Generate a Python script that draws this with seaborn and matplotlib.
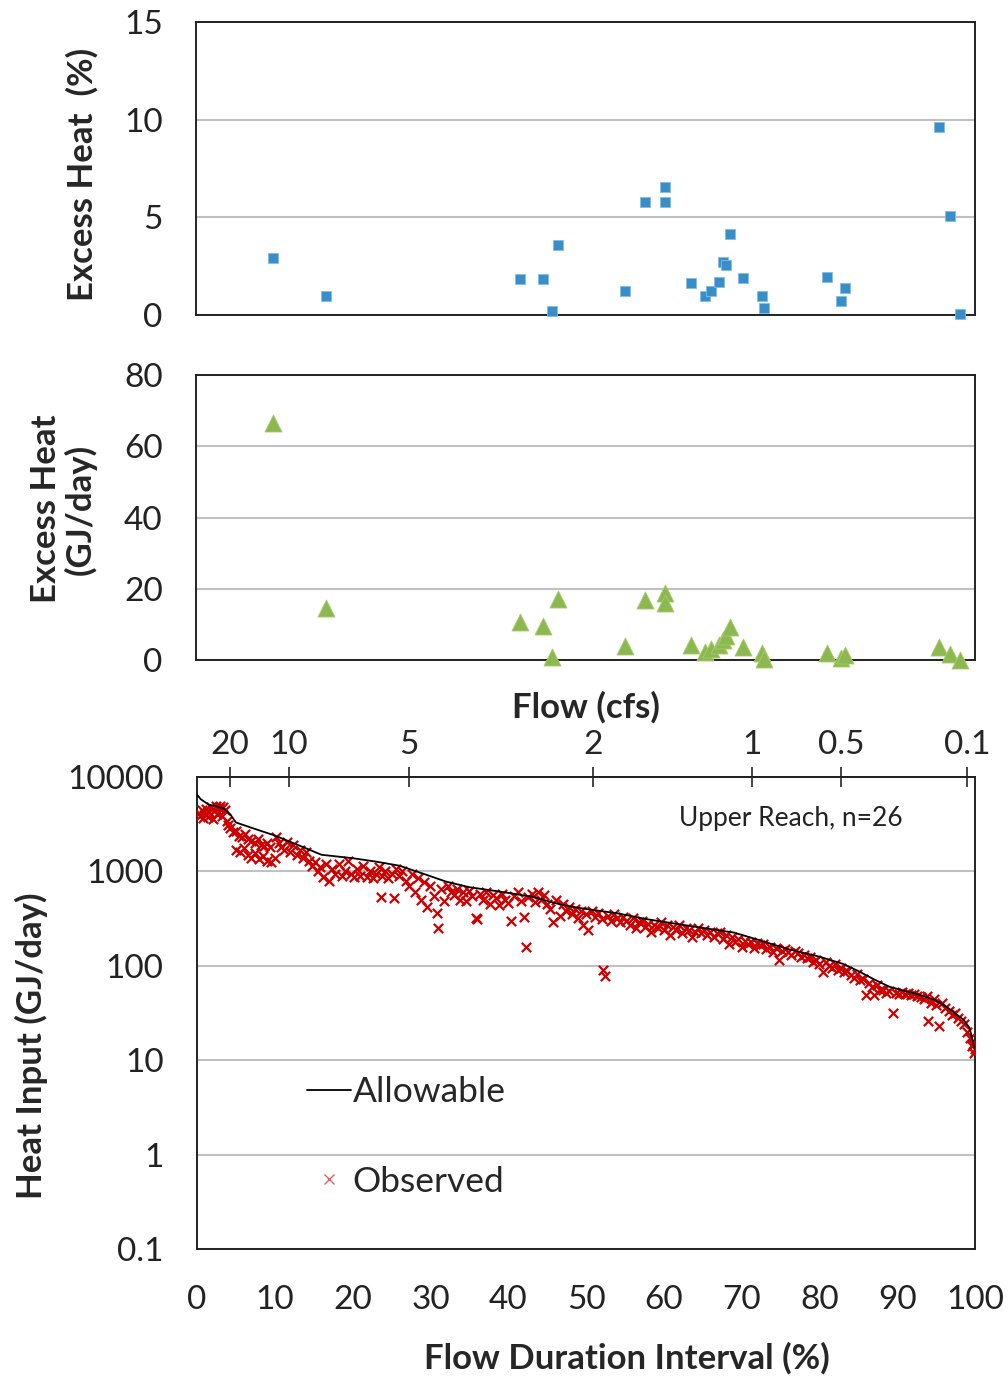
import numpy as np
import pandas as pd
import matplotlib
matplotlib.use('Agg')
import matplotlib.pyplot as plt
from matplotlib.lines import Line2D
import seaborn as sns

# excess heat per sampled event, placed on the flow duration interval (%)
event_pct = [9.85, 16.7, 41.6, 44.6, 45.7, 46.5, 55.1, 57.6, 60.2, 60.2, 63.5, 65.4, 66.1,
             67.1, 67.7, 68.1, 68.6, 70.2, 72.7, 72.9, 81.0, 82.8, 83.3, 95.4, 96.8, 98.1]
excess_pct = [2.94, 0.98, 1.82, 1.86, 0.19, 3.56, 1.25, 5.77, 6.56, 5.77, 1.62, 0.96, 1.25,
              1.67, 2.73, 2.56, 4.14, 1.87, 0.98, 0.34, 1.92, 0.74, 1.39, 9.60, 5.09, 0.05]
excess_gj = [66.6, 14.5, 10.6, 9.6, 0.9, 17.1, 4.0, 16.8, 18.7, 16.1, 4.2, 2.3, 3.0,
             4.2, 5.6, 6.6, 9.4, 3.7, 1.9, 0.2, 2.1, 0.7, 1.3, 3.7, 1.7, 0.0]

# allowable heat load curve
allow_pct = [0, 0.5, 1.5, 2.5, 3.5, 4.3, 5, 7, 10, 13, 16, 20, 23, 26, 29, 32, 35, 39, 43, 47,
             50, 54, 58, 62, 66, 69, 72, 76, 80, 83, 85, 87, 89, 91, 93, 95, 96.5, 97.5, 98.5,
             99.3, 100]
allow_heat = [6500, 5800, 5100, 4900, 4600, 4000, 3300, 2900, 2400, 1900, 1500, 1380, 1270,
              1150, 950, 780, 680, 610, 540, 440, 400, 360, 310, 275, 245, 225, 190, 150, 125,
              105, 88, 72, 60, 54, 49, 43, 36, 31, 27, 22, 13]

# observed heat input
obs_pct = [0.2, 0.4, 0.6, 0.8, 1.0, 1.2, 1.4, 1.6, 1.8, 2.0, 2.2, 2.4, 2.6, 2.8, 3.0, 3.2, 3.4,
           3.6, 3.8, 4.0,
           4.3, 4.6, 5.0, 5.4, 5.8, 6.2, 6.6, 7.0, 7.4, 7.8, 8.2, 8.6, 9.0, 9.4,
           5.0, 5.5, 6.0, 6.5, 7.0, 7.5, 8.0, 8.5, 9.0, 9.5, 10.0,
           10.2, 10.5, 10.8, 11.2, 11.6, 12.0, 12.4, 12.8, 13.2, 13.6, 14.0,
           14.4, 14.8, 15.2, 15.5, 15.8, 16.2, 16.6, 17.0,
           17.4, 17.8, 18.2, 18.6, 19.0, 19.4, 19.8, 20.2, 20.6, 21.0, 21.4, 21.8, 22.2, 22.6,
           23.0, 23.4, 23.6, 23.8, 24.2, 24.6, 25.0, 25.3,
           25.6, 26.0, 26.4, 26.8, 27.2, 27.6, 28.0, 28.4, 28.8, 29.2, 29.6, 30.0, 30.4, 30.8,
           31.0, 31.4, 31.8, 32.2, 32.6,
           33.0, 33.4, 33.8, 34.2, 34.6, 35.0, 35.4, 35.8, 36.0, 36.4, 36.8, 37.2, 37.6, 38.0,
           38.4, 38.8, 39.2, 39.6, 40.0, 40.4, 40.8, 41.2, 41.6, 42.0, 42.3, 42.6, 43.0, 43.4,
           43.8, 44.2, 44.6, 45.0,
           45.4, 45.8, 46.2, 46.6, 47.0, 47.4, 47.8, 48.2, 48.6, 49.0, 49.4, 49.6, 50.0, 50.3,
           50.8, 51.2, 51.6, 52.0, 52.2, 52.4, 52.8, 53.2, 53.6, 54.0, 54.4, 54.8,
           55.2, 55.6, 56.0, 56.4, 56.8, 57.2, 57.6, 58.0, 58.4, 58.8, 59.2, 59.6, 60.0, 60.4,
           60.8, 61.2, 61.6, 62.0, 62.4, 62.8, 63.2, 63.6, 64.0, 64.4, 64.8, 65.2, 65.6, 66.0,
           66.4, 66.8, 67.2, 67.6,
           68.0, 68.4, 68.8, 69.2, 69.6, 70.0, 70.4, 70.8, 71.2, 71.6, 72.0, 72.4, 72.8, 73.2,
           73.6, 74.0, 74.4, 74.8, 75.2, 75.6, 76.0, 76.4, 76.8, 77.2, 77.6, 78.0, 78.4, 78.8,
           79.2, 79.6, 80.0, 80.4,
           80.8, 81.2, 81.6, 82.0, 82.4, 82.8, 83.2, 83.6, 84.0, 84.4, 84.8, 85.2, 85.6, 86.0,
           86.4, 86.8, 87.0, 87.4, 87.8,
           88.2, 88.6, 89.0, 89.5, 89.8, 90.2, 90.6, 91.0, 91.4, 91.8, 92.2, 92.6, 93.0, 93.4,
           93.8, 94.0, 94.3, 94.7, 95.0, 95.4,
           95.8, 96.2, 96.6, 97.0, 97.4, 97.8, 98.2, 98.6, 99.0, 99.3, 99.6, 99.9, 100.0, 99.8]
obs_heat = [4200, 3900, 4500, 3700, 4100, 4600, 3800, 4300, 4800, 3600, 4400, 4900, 4100, 4700,
            4900, 3900, 4800, 4500, 3400, 3100,
            2900, 2600, 2700, 2400, 2300, 2500, 2200, 2100, 2000, 2200, 1900, 1850, 2000, 1800,
            1700, 1600, 1750, 1500, 1400, 1550, 1350, 1450, 1300, 1250, 1400,
            2300, 2000, 1800, 1700, 2050, 1600, 1900, 1500, 1700, 1400, 1600,
            1300, 1150, 1250, 1000, 1100, 880, 1200, 800,
            1050, 950, 1200, 900, 1000, 1300, 950, 870, 1050, 900, 1150, 880, 1000, 850,
            950, 1100, 530, 900, 1000, 860, 950, 520,
            1050, 900, 1000, 800, 700, 950, 600, 850, 500, 780, 420, 700, 550, 360,
            250, 650, 480, 700, 600,
            560, 650, 500, 600, 480, 620, 550, 320, 310, 580, 500, 600, 450, 560,
            520, 440, 580, 500, 460, 300, 550, 600, 480, 330, 158, 540, 580, 470,
            600, 500, 560, 450,
            400, 290, 500, 340, 450, 380, 420, 350, 400, 320, 380, 270, 350, 240,
            380, 330, 360, 310, 90, 78, 340, 300, 350, 320, 290, 330,
            300, 270, 320, 250, 290, 300, 260, 280, 230, 270, 250, 290, 240, 270,
            210, 260, 240, 270, 220, 250, 240, 200, 230, 250, 220, 240, 210, 230,
            200, 220, 230, 190,
            210, 170, 200, 180, 190, 160, 185, 170, 180, 155, 175, 165, 170, 150,
            160, 140, 155, 115, 145, 150, 140, 130, 145, 135, 125, 130, 120, 125,
            110, 115, 105, 87,
            110, 100, 95, 105, 90, 95, 85, 88, 80, 75, 82, 70, 72, 49,
            65, 60, 49, 62, 56,
            55, 52, 54, 32, 52, 50, 53, 50, 51, 49, 50, 48, 47, 45,
            48, 26, 40, 45, 38, 23,
            40, 36, 33, 30, 32, 28, 26, 24, 20, 17, 14, 12, 13, 15]

flow_ticks_pct = [4.2, 11.8, 27.2, 50.9, 71.4, 82.8, 99.0]
flow_labels = ['20', '10', '5', '2', '1', '0.5', '0.1']

events = pd.DataFrame({'pct': event_pct, 'excess_pct': excess_pct, 'excess_gj': excess_gj})
allow = pd.DataFrame({'pct': allow_pct, 'heat': allow_heat})
obs = pd.DataFrame({'pct': obs_pct, 'heat': obs_heat})

sns.set_style('white')
plt.rcParams['font.family'] = ['Lato', 'DejaVu Sans']
plt.rcParams['axes.linewidth'] = 1.4
plt.rcParams['axes.edgecolor'] = '#222222'

W, H = 1008, 1383
fig = plt.figure(figsize=(W / 100, H / 100), dpi=100)


def box(l, t, r, b):
    return [l / W, 1 - b / H, (r - l) / W, (b - t) / H]


ax1 = fig.add_axes(box(196, 22, 975, 315))
ax2 = fig.add_axes(box(196, 375, 975, 660))
ax3 = fig.add_axes(box(197, 777, 975, 1249))

tick_fs = 24
lab_fs = 25
grid_kw = dict(color='#c0c0c0', linewidth=1.5)

# panel 1: excess heat (%)
sns.scatterplot(data=events, x='pct', y='excess_pct', ax=ax1, marker='s', s=48,
                color='#3a8ec8', edgecolor='#7cc0e8', linewidth=0.6, legend=False,
                clip_on=False, zorder=3)
ax1.set_ylim(0, 15)
ax1.set_yticks([0, 5, 10, 15])

# panel 2: excess heat (GJ/day)
sns.scatterplot(data=events, x='pct', y='excess_gj', ax=ax2, marker='^', s=150,
                color='#8cb850', edgecolor='#a8cc70', linewidth=0.6, legend=False,
                clip_on=False, zorder=3)
ax2.set_ylim(0, 80)
ax2.set_yticks([0, 20, 40, 60, 80])

for ax in (ax1, ax2):
    ax.set_xlim(0, 100)
    ax.set_xticks([0, 20, 40, 60, 80, 100])
    ax.set_xticklabels([])
    ax.set_xlabel('')
    ax.yaxis.grid(True, **grid_kw)
    ax.set_axisbelow(True)

ax1.set_ylabel('Excess Heat  (%)', fontsize=lab_fs, fontweight='bold')
ax1.yaxis.set_label_coords(-0.125, 0.48)
ax2.set_ylabel('Excess Heat\n(GJ/day)', fontsize=lab_fs, fontweight='bold', linespacing=1.05)
ax2.yaxis.set_label_coords(-0.128, 0.53)

# panel 3: heat input load duration curve
sns.scatterplot(data=obs, x='pct', y='heat', ax=ax3, marker='x', s=45, color='#cc0000',
                linewidth=1.6, legend=False, zorder=3)
sns.lineplot(data=allow, x='pct', y='heat', ax=ax3, color='black', linewidth=1.3,
             sort=False, estimator=None, legend=False, zorder=4)
ax3.set_yscale('log')
ax3.set_ylim(0.1, 10000)
ax3.set_xlim(0, 100)
ax3.set_yticks([0.1, 1, 10, 100, 1000, 10000])
ax3.set_yticklabels(['0.1', '1', '10', '100', '1000', '10000'])
ax3.yaxis.set_minor_locator(matplotlib.ticker.NullLocator())
ax3.set_xticks(range(0, 101, 10))
ax3.yaxis.grid(True, **grid_kw)
ax3.set_axisbelow(True)
ax3.set_xlabel('Flow Duration Interval (%)', fontsize=lab_fs, fontweight='bold')
ax3.xaxis.set_label_coords(0.552, -0.197)
ax3.set_ylabel('Heat Input (GJ/day)', fontsize=lab_fs, fontweight='bold')
ax3.yaxis.set_label_coords(-0.192, 0.43)

top = ax3.secondary_xaxis('top')
top.set_xticks(flow_ticks_pct)
top.set_xticklabels(flow_labels)
top.tick_params(direction='inout', length=14, width=1.2, pad=5, labelsize=tick_fs)
top.set_xlabel('Flow (cfs)', fontsize=lab_fs, fontweight='bold', labelpad=9)

ax3.text(0.619, 0.913, 'Upper Reach, n=26', transform=ax3.transAxes, fontsize=19,
         va='center', ha='left', color='#222222')

handles = [Line2D([], [], color='black', linewidth=1.3),
           Line2D([], [], color='#e06060', marker='x', linestyle='', markersize=7,
                  markeredgewidth=1.0)]
ax3.legend(handles, ['Allowable', 'Observed'], loc='upper left',
           bbox_to_anchor=(0.141, 0.366), frameon=False, fontsize=25.5,
           handlelength=1.25, handletextpad=0.05, labelspacing=1.62,
           borderpad=0, borderaxespad=0)

for ax in (ax1, ax2, ax3):
    ax.tick_params(axis='both', direction='out', length=10, width=1.4, pad=14,
                   labelsize=tick_fs, colors='#222222')
    ax.tick_params(axis='x', pad=16)
    for s in ax.spines.values():
        s.set_visible(True)
        s.set_color('#222222')

fig.savefig('out.png', dpi=100)
